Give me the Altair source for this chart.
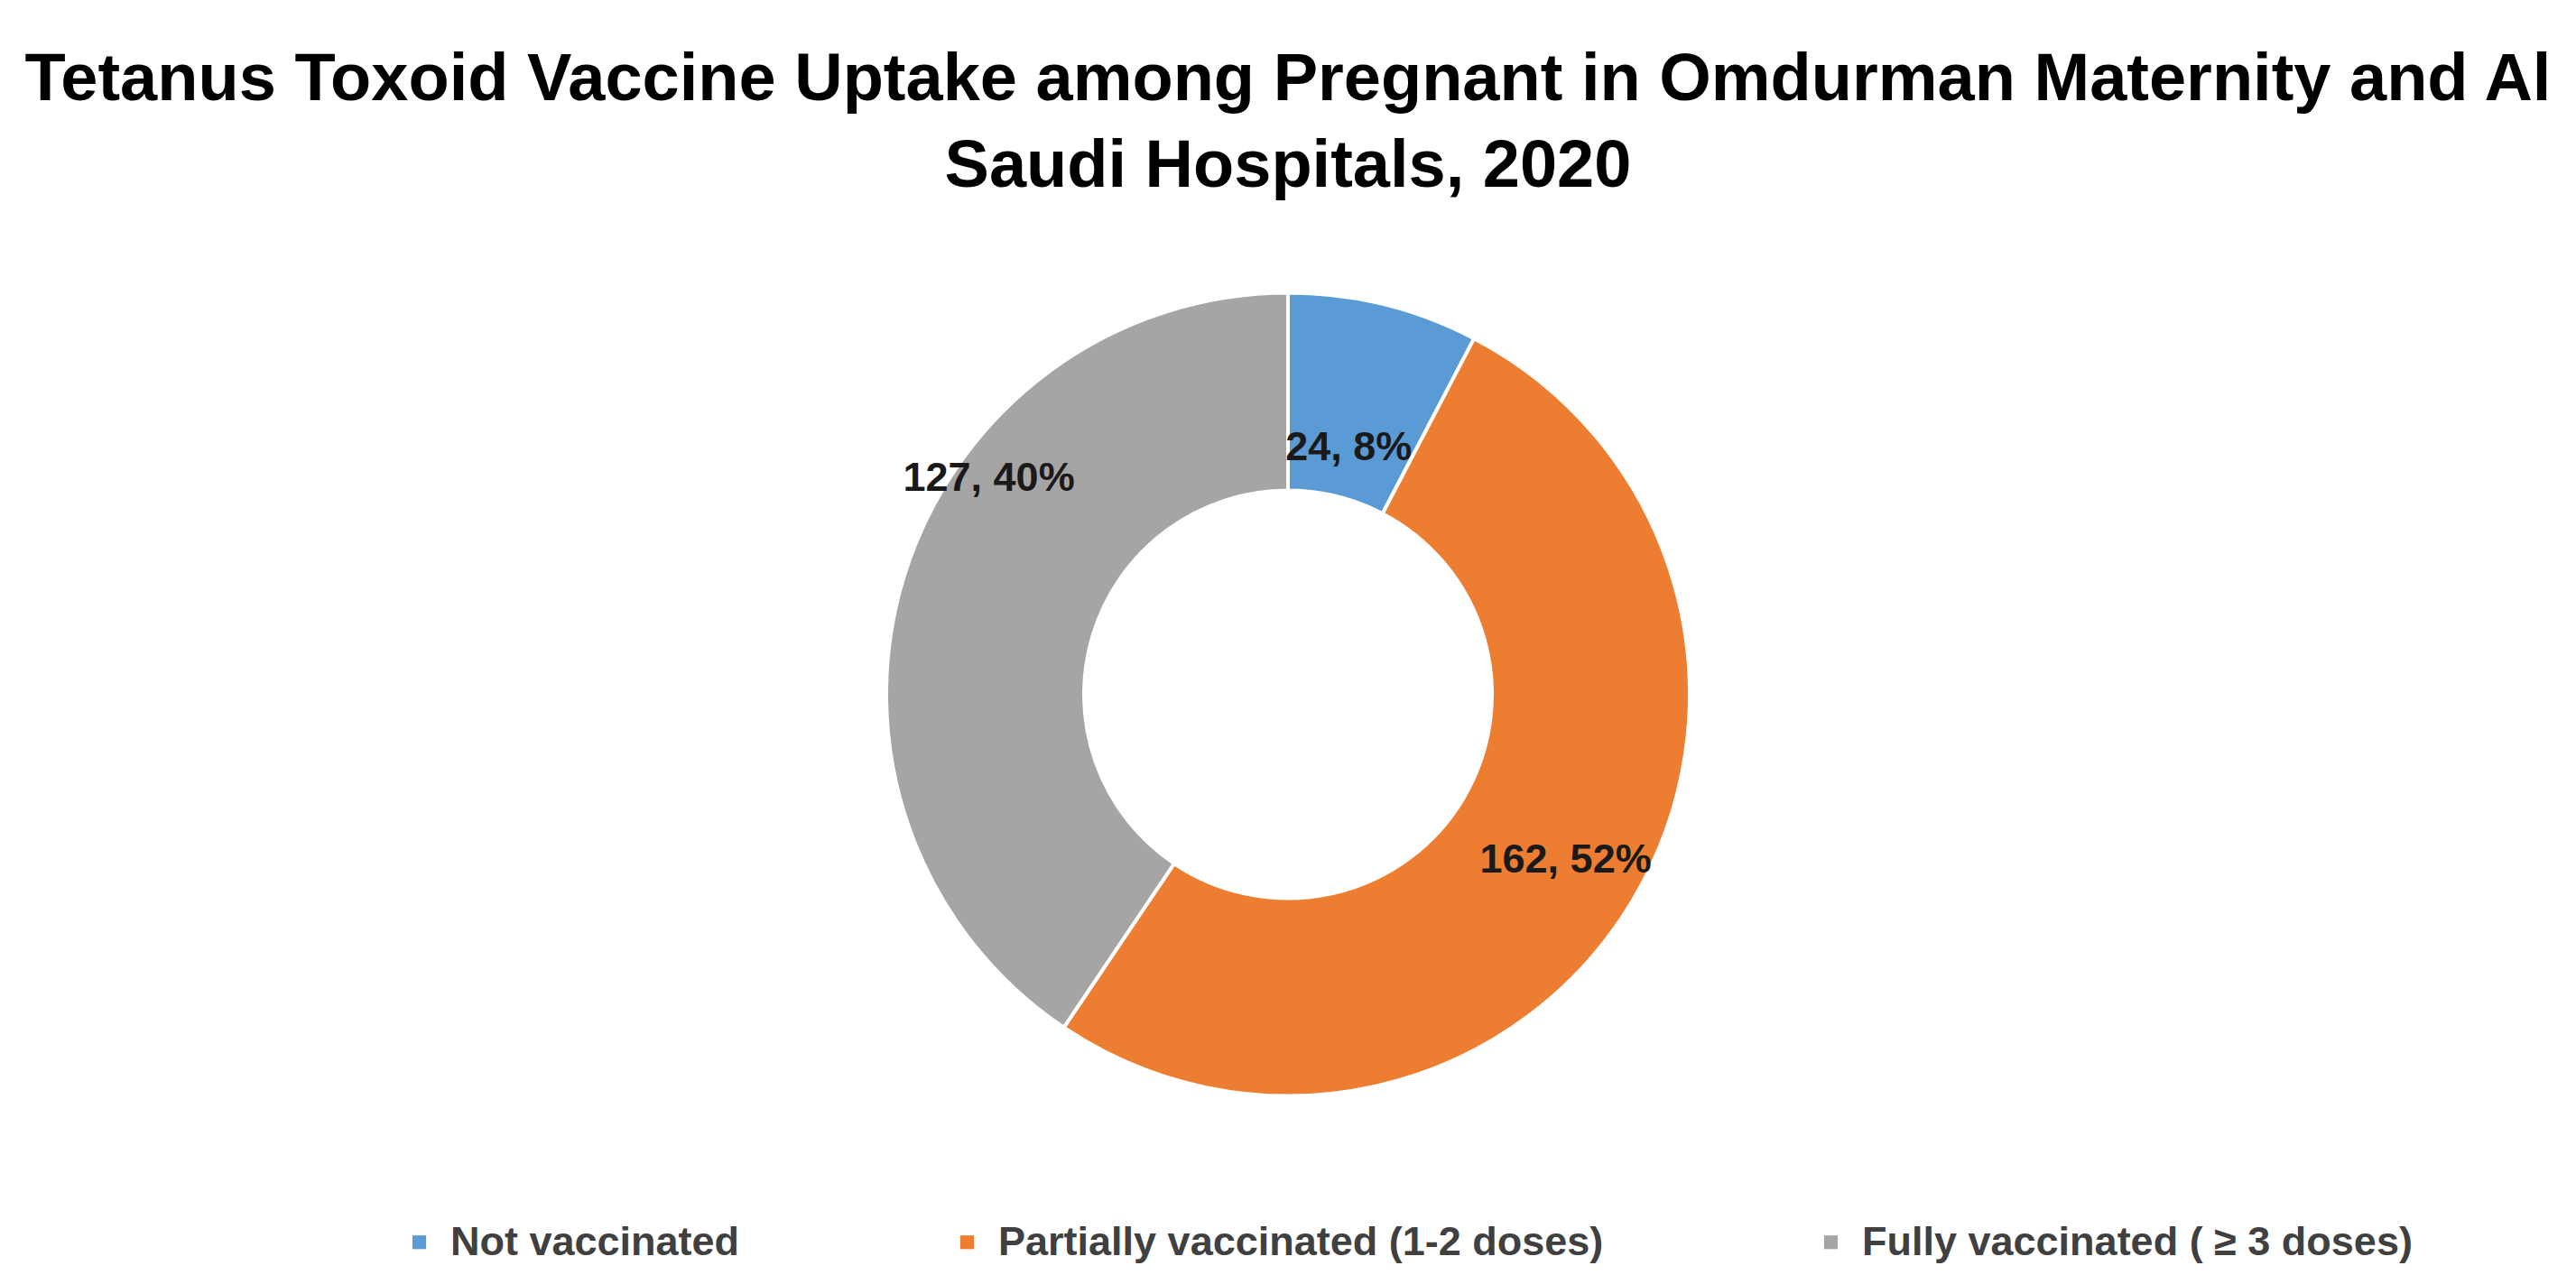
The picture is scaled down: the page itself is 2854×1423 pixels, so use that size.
import altair as alt
import pandas as pd

categories = ["Not vaccinated", "Partially vaccinated (1-2 doses)", "Fully vaccinated ( \u2265 3 doses)"]
counts = [24, 162, 127]
percents = ["8%", "52%", "40%"]
colors = ["#5B9BD5", "#ED7D31", "#A5A5A5"]
title_lines = ["Tetanus Toxoid Vaccine Uptake among Pregnant in Omdurman Maternity and Al",
               "Saudi Hospitals, 2020"]

FONT = "Liberation Sans, Arial, sans-serif"

df = pd.DataFrame({"category": categories, "count": counts, "pct": percents,
                   "order": list(range(len(categories)))})
df["label"] = df["count"].astype(str) + ", " + df["pct"]

arcs = alt.Chart(df).mark_arc(outerRadius=445, innerRadius=226, stroke="white", strokeWidth=4).encode(
    theta=alt.Theta("count:Q", stack=True),
    order=alt.Order("order:Q"),
    color=alt.Color(
        "category:N",
        scale=alt.Scale(domain=categories, range=colors),
        sort=categories,
        legend=alt.Legend(
            title=None, orient="none", direction="horizontal", columns=3,
            legendX=434, legendY=1121,
            symbolType="square", symbolSize=230, symbolStrokeWidth=0,
            labelFont=FONT, labelFontSize=45, labelFontWeight="bold", labelColor="#404040",
            columnPadding=229, labelOffset=12, labelLimit=1000,
        ),
    ),
)

label_base = alt.Chart(df).transform_window(
    cum="sum(count)", sort=[alt.SortField("order")]
).transform_calculate(
    mid="datum.cum - datum.count / 2"
)

label_style = dict(font=FONT, fontSize=45, fontWeight="bold", color="#1a1a1a")


def label_layer(cat, radius, offset=0.0):
    kw = dict(radius=radius, **label_style)
    if offset:
        kw["thetaOffset"] = offset
    return label_base.transform_filter(alt.datum.category == cat).mark_text(**kw).encode(
        theta=alt.Theta("mid:Q"),
        text="label:N",
    )


lab1 = label_layer(categories[0], 282)
lab2 = label_layer(categories[1], 358)
lab3 = label_layer(categories[2], 409, 0.33)

chart = alt.layer(arcs, lab1, lab2, lab3).properties(
    width=2838, height=1073,
    padding={"left": 0, "right": 0, "top": 44, "bottom": 0},
    title=alt.Title(title_lines, font=FONT, fontSize=74, fontWeight="bold", color="#000000",
                    anchor="middle", lineHeight=96, offset=10),
).configure_view(stroke=None)

chart.save("out.html", embed_options={"renderer": "svg", "actions": False})
